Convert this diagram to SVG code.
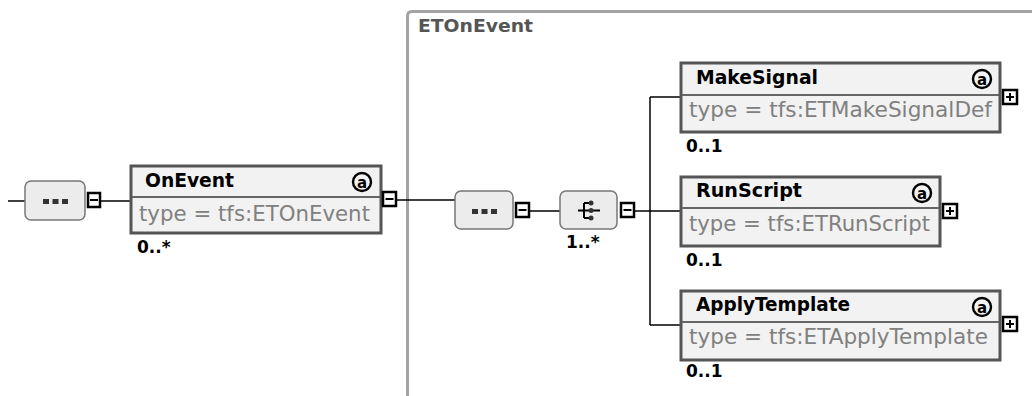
<svg xmlns="http://www.w3.org/2000/svg" width="1032" height="396" viewBox="0 0 1032 396">
<style>
.frame{fill:none;stroke:#a3a3a3;stroke-width:3}
.ftitle{font-family:"DejaVu Sans",sans-serif;font-weight:bold;font-size:17px;fill:#555}
.box{fill:#f2f2f2;stroke:#555;stroke-width:3}
.div{stroke:#666;stroke-width:2}
.title{font-family:"DejaVu Sans",sans-serif;font-weight:bold;font-size:19px;fill:#000}
.type{font-family:"DejaVu Sans",sans-serif;font-size:21px;fill:#808080}
.card{font-family:"DejaVu Sans",sans-serif;font-weight:bold;font-size:17px;fill:#000}
.comp{fill:#ececec;stroke:#777;stroke-width:1.5}
.tog{fill:#fff;stroke:#000;stroke-width:2.5}
.sign{stroke:#000;stroke-width:2;fill:none}
.ic{fill:none;stroke:#000;stroke-width:2.4}
.ica{font-family:"DejaVu Sans",sans-serif;font-weight:bold;font-size:15px;fill:#000}
.conn{stroke:#000;stroke-width:1.5;fill:none}
.dot{fill:#333}
</style>

<g id="frame-ETOnEvent">
<path class="frame" d="M407.5 396 V16 Q407.5 11.5 412 11.5 H1040"/>
<text class="ftitle" x="418" y="32" textLength="115" lengthAdjust="spacingAndGlyphs">ETOnEvent</text>
</g>

<g id="connectors">
<line class="conn" x1="8" y1="201" x2="25" y2="201"/>
<line class="conn" x1="100" y1="201" x2="130" y2="201"/>
<line class="conn" x1="396" y1="200" x2="455" y2="200"/>
<line class="conn" x1="529" y1="211" x2="560" y2="211"/>
<line class="conn" x1="634" y1="211" x2="680" y2="211"/>
<line class="conn" x1="650" y1="97" x2="650" y2="325"/>
<line class="conn" x1="650" y1="97" x2="680" y2="97"/>
<line class="conn" x1="650" y1="325" x2="680" y2="325"/>
</g>

<g id="seq1">
<rect class="comp" x="25" y="181" width="60" height="39" rx="6"/>
<rect class="dot" x="43" y="199" width="6" height="5"/>
<rect class="dot" x="52.5" y="199" width="6" height="5"/>
<rect class="dot" x="62" y="199" width="6" height="5"/>
<rect class="tog" x="88" y="193" width="12" height="14"/>
<line class="sign" x1="90" y1="200" x2="98" y2="200"/>
</g>

<g id="OnEvent">
<rect class="box" x="131" y="166" width="250" height="67"/>
<line class="div" x1="132" y1="197" x2="380" y2="197"/>
<text class="title" x="145" y="187" textLength="89" lengthAdjust="spacingAndGlyphs">OnEvent</text>
<circle class="ic" cx="362" cy="182" r="9"/>
<text class="ica" x="362" y="187.5" text-anchor="middle">a</text>
<text class="type" x="139" y="221" textLength="231" lengthAdjust="spacingAndGlyphs">type = tfs:ETOnEvent</text>
<rect class="tog" x="383" y="192" width="13" height="14"/>
<line class="sign" x1="385.5" y1="199" x2="393.5" y2="199"/>
<text class="card" x="137" y="253">0..*</text>
</g>

<g id="seq2">
<rect class="comp" x="455" y="191" width="58" height="38" rx="6"/>
<rect class="dot" x="472" y="209" width="6" height="5"/>
<rect class="dot" x="481.5" y="209" width="6" height="5"/>
<rect class="dot" x="491" y="209" width="6" height="5"/>
<rect class="tog" x="516" y="203" width="13" height="14"/>
<line class="sign" x1="518.5" y1="210" x2="526.5" y2="210"/>
</g>

<g id="choice">
<rect class="comp" x="560" y="191" width="57" height="38" rx="6"/>
<path class="sign" d="M578 210.5 H600 M584 203 V218 M584 203 H591 M584 218 H591"/>
<circle class="dot" cx="591" cy="203" r="2.5"/>
<circle class="dot" cx="591" cy="218" r="2.5"/>
<circle class="dot" cx="591" cy="210.5" r="2.5"/>
<rect class="tog" x="621" y="203" width="13" height="14"/>
<line class="sign" x1="623.5" y1="210" x2="631.5" y2="210"/>
<text class="card" x="566" y="248">1..*</text>
</g>

<g id="MakeSignal">
<rect class="box" x="681" y="63" width="319" height="69"/>
<line class="div" x1="682" y1="95" x2="999" y2="95"/>
<text class="title" x="696" y="84" textLength="122" lengthAdjust="spacingAndGlyphs">MakeSignal</text>
<circle class="ic" cx="982" cy="79" r="9"/>
<text class="ica" x="982" y="84.5" text-anchor="middle">a</text>
<text class="type" x="689" y="117" textLength="303" lengthAdjust="spacingAndGlyphs">type = tfs:ETMakeSignalDef</text>
<rect class="tog" x="1003" y="90" width="14" height="14"/>
<path class="sign" d="M1006 97 H1014 M1010 93 V101"/>
<text class="card" x="686" y="152">0..1</text>
</g>

<g id="RunScript">
<rect class="box" x="681" y="177" width="259" height="69"/>
<line class="div" x1="682" y1="208" x2="939" y2="208"/>
<text class="title" x="696" y="197" textLength="106" lengthAdjust="spacingAndGlyphs">RunScript</text>
<circle class="ic" cx="922" cy="193" r="9"/>
<text class="ica" x="922" y="198.5" text-anchor="middle">a</text>
<text class="type" x="689" y="231" textLength="241" lengthAdjust="spacingAndGlyphs">type = tfs:ETRunScript</text>
<rect class="tog" x="943" y="204" width="14" height="14"/>
<path class="sign" d="M946 211 H954 M950 207 V215"/>
<text class="card" x="686" y="266">0..1</text>
</g>

<g id="ApplyTemplate">
<rect class="box" x="681" y="291" width="319" height="69"/>
<line class="div" x1="682" y1="322" x2="999" y2="322"/>
<text class="title" x="696" y="311" textLength="154" lengthAdjust="spacingAndGlyphs">ApplyTemplate</text>
<circle class="ic" cx="982" cy="307" r="9"/>
<text class="ica" x="982" y="312.5" text-anchor="middle">a</text>
<text class="type" x="689" y="344" textLength="299" lengthAdjust="spacingAndGlyphs">type = tfs:ETApplyTemplate</text>
<rect class="tog" x="1003" y="317" width="14" height="14"/>
<path class="sign" d="M1006 324 H1014 M1010 320 V328"/>
<text class="card" x="686" y="377">0..1</text>
</g>
</svg>
